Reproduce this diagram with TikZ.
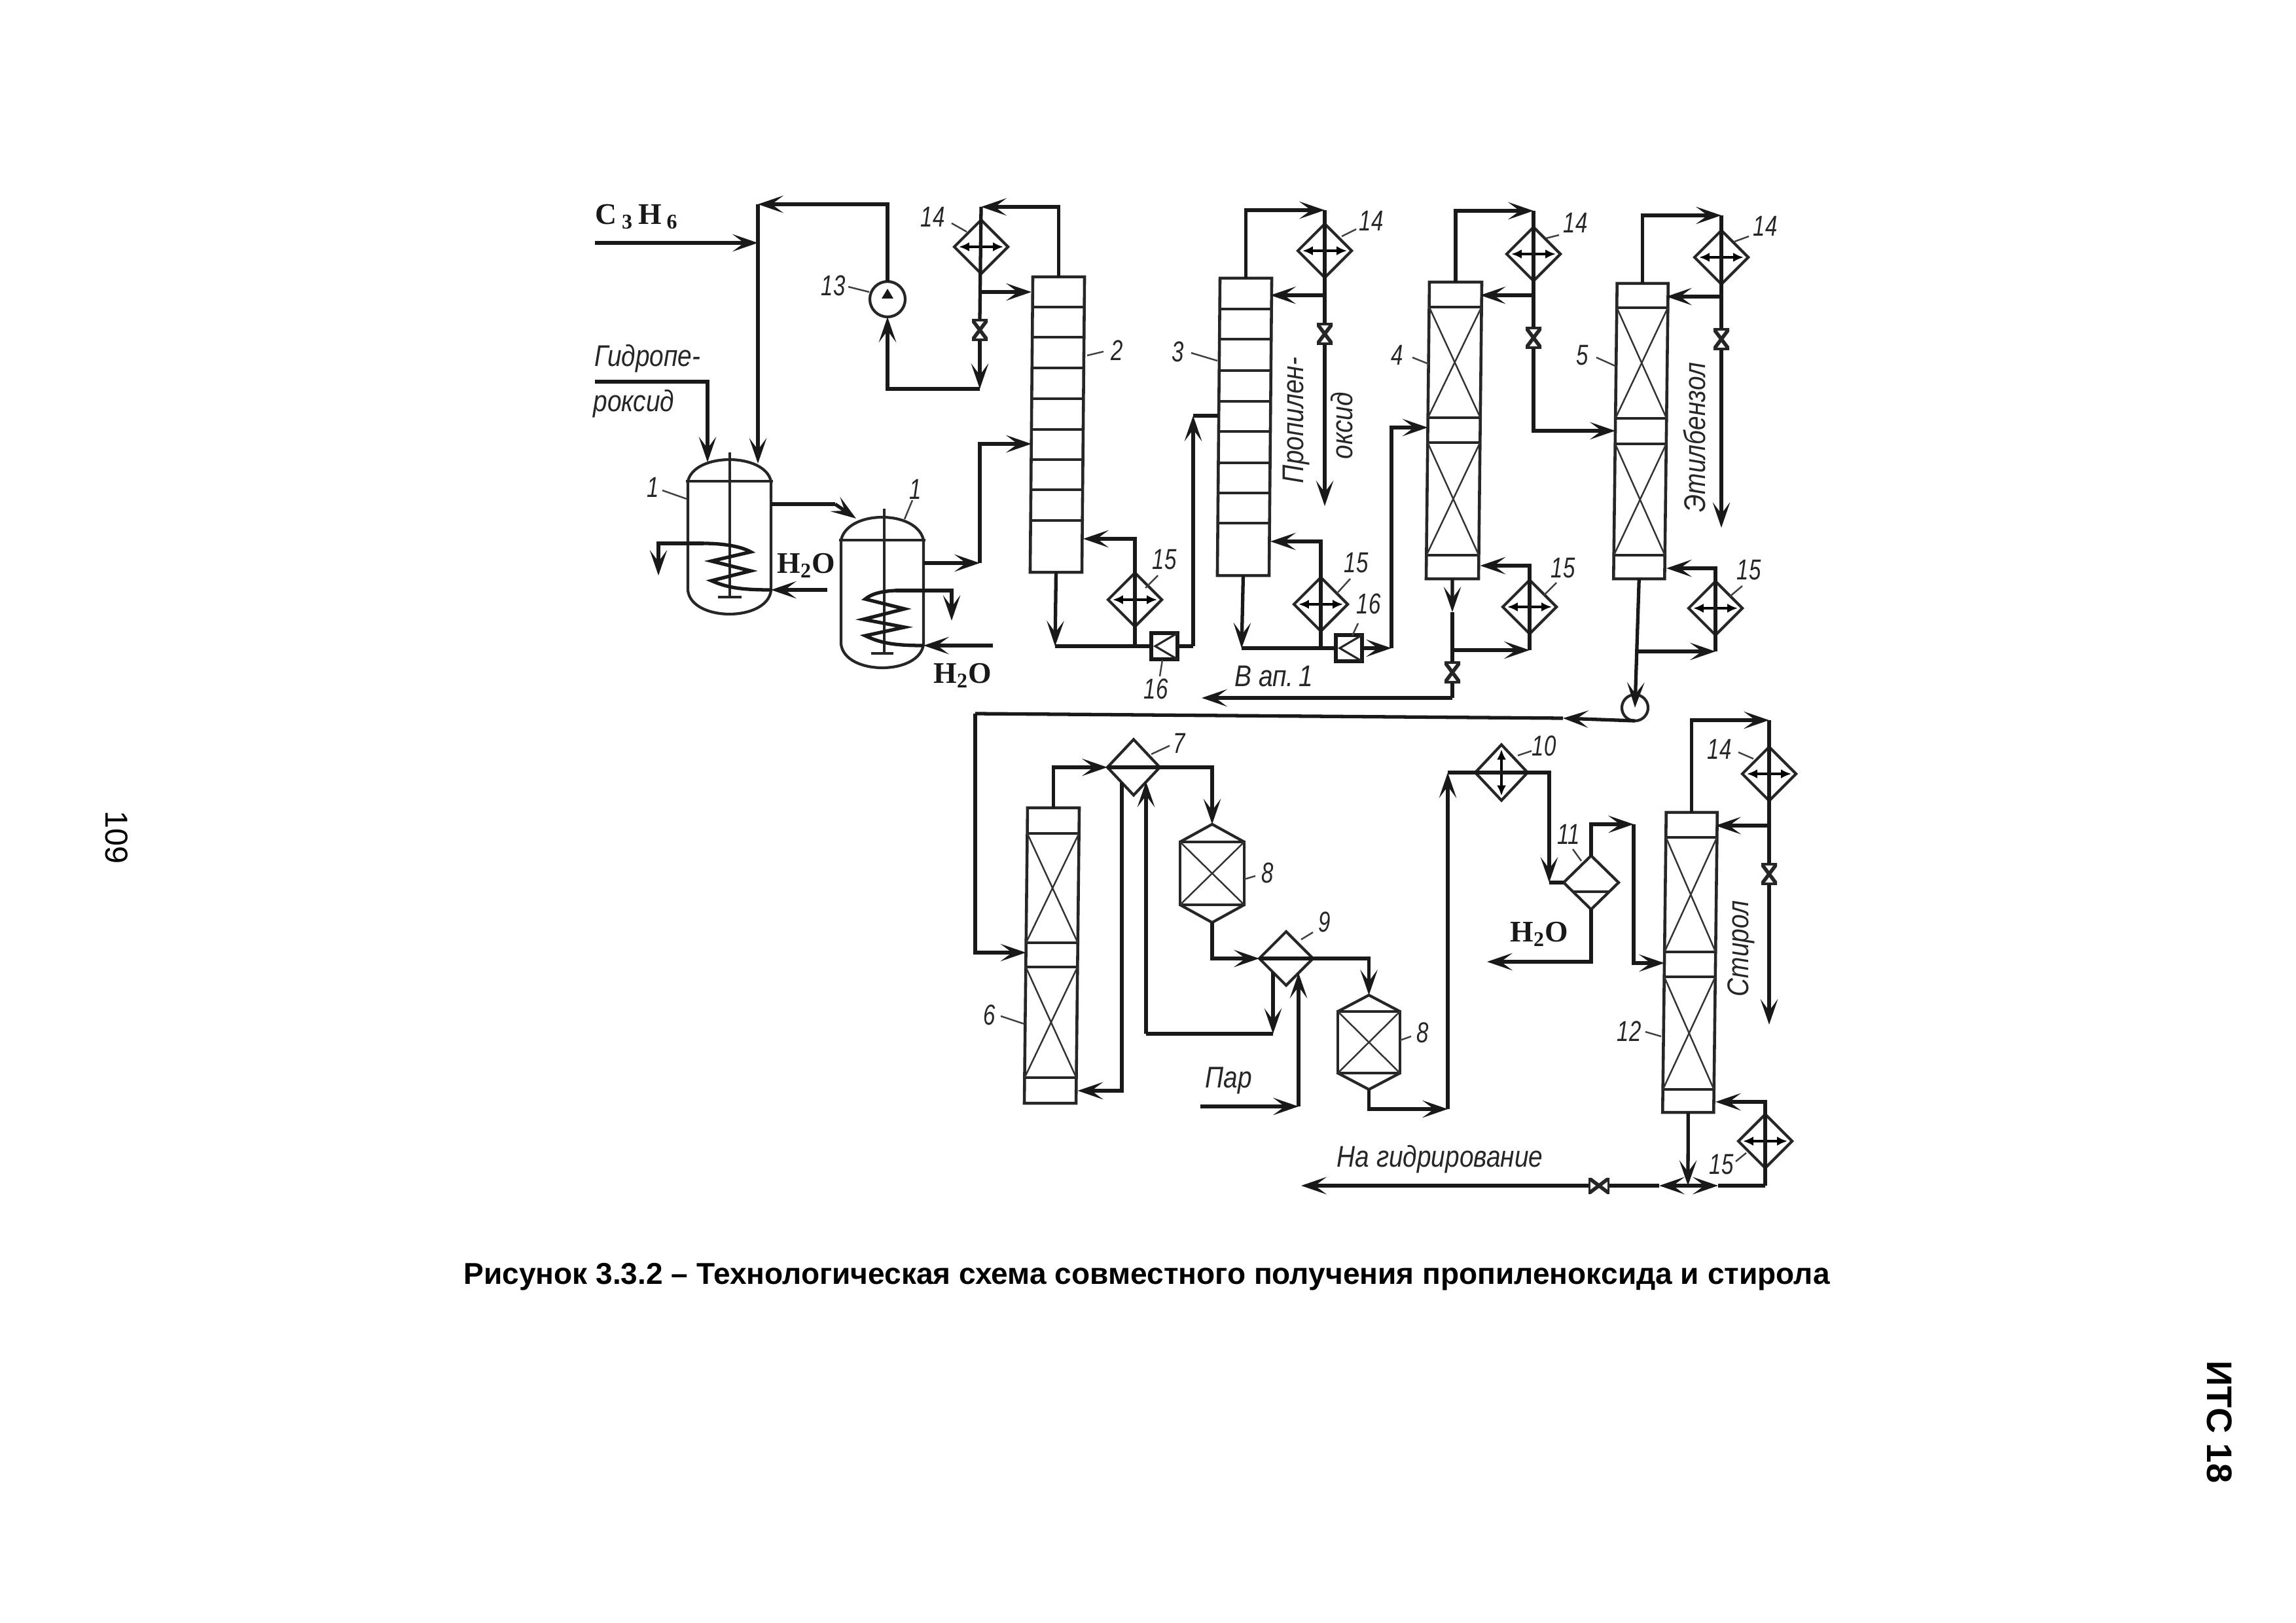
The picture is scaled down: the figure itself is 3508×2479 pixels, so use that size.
\documentclass[tikz,border=0pt]{standalone}
\usepackage{fontspec}
\setmainfont{Liberation Sans}
\newfontfamily\serbf{Liberation Serif Bold}
\newfontfamily\txtf[FakeStretch=.85]{Liberation Sans Italic}
\newfontfamily\numf[FakeStretch=.75]{Liberation Sans Italic}
\usetikzlibrary{arrows.meta,shapes.geometric,calc}
\tikzset{
  pipe/.style={line width=1.5pt,line join=miter,draw=black!90},
  flow/.style={pipe,-{Stealth[length=11pt,width=7.5pt,inset=5pt]}},
  colbox/.style={draw=black!85,line width=1.3pt,rectangle,inner sep=0pt,outer sep=0pt,fill=none},
  tray/.style={line width=1.1pt,draw=black!85},
  bed/.style={line width=.7pt,draw=black!80},
  hxbox/.style={draw=black!85,line width=1.2pt,shape=diamond,aspect=1,inner sep=0pt,outer sep=0pt,minimum width=.82cm,minimum height=.82cm},
  dbl/.style={line width=.9pt,{Latex[length=4.5pt,width=4pt]}-{Latex[length=4.5pt,width=4pt]},shorten <=2pt,shorten >=2pt},
  wall/.style={line width=1.2pt,draw=black!85,line join=round},
  ghost/.style={rectangle,inner sep=0pt,outer sep=0pt},
  leader/.style={line width=.7pt,draw=black!75},
  lbl/.style={font=\fontsize{13}{15}\txtf,inner sep=0pt,text=black!85},
  numl/.style={font=\fontsize{12.5}{15}\numf,inner sep=0pt,text=black!85},
  chem/.style={font=\fontsize{13}{15}\serbf,inner sep=0pt,text=black!90},
  vvalve/.style={rectangle,inner sep=0pt,outer sep=0pt,minimum width=.24cm,minimum height=.32cm,
    path picture={\draw[line width=1.6pt,draw=black!85] (path picture bounding box.north west)--(path picture bounding box.north east)--(path picture bounding box.south west)--(path picture bounding box.south east)--cycle;}},
  hvalve/.style={rectangle,inner sep=0pt,outer sep=0pt,minimum width=.32cm,minimum height=.24cm,
    path picture={\draw[line width=1.6pt,draw=black!85] (path picture bounding box.north west)--(path picture bounding box.south west)--(path picture bounding box.north east)--(path picture bounding box.south east)--cycle;}},
  sbox/.style={draw=black!90,line width=1.5pt,rectangle,inner sep=0pt,outer sep=0pt,minimum size=.40cm},
  chev/.style={line width=.9pt,draw=black!85},
  pumpc/.style={draw=black!85,line width=1.2pt,circle,inner sep=0pt,outer sep=0pt},
  unit/.style={draw=black!85,line width=1.3pt,rectangle,inner sep=0pt,outer sep=0pt},
}
% name, x, y, leader a (x,y), leader b (x,y), text
\newcommand\mylab[8]{\node[numl] (#1) at (#2,#3) {#8};\coordinate (#1a) at (#4,#5);\coordinate (#1b) at (#6,#7);\draw[leader] (#1a) -- (#1b);}
\newcommand\myhx[3]{\node[hxbox] (#1) at (#2,#3) {};\draw[dbl] (#1.west) -- (#1.east);}
\newcommand\mycol[6]{\node[colbox,minimum width=#4,minimum height=#5,xslant=#6] (#1) at (#2,#3) {};}
% column, ytop, height, list of y
\newcommand\mytrays[4]{\foreach \yy in {#4}{\pgfmathsetmacro\ff{(\yy-#2)/#3}
  \draw[tray] ($(#1.north west)!\ff!(#1.south west)$) -- ($(#1.north east)!\ff!(#1.south east)$);}}
% column, ytop, height, y1, y2
\newcommand\mybed[5]{\pgfmathsetmacro\fa{(#4-#2)/#3}\pgfmathsetmacro\fb{(#5-#2)/#3}
  \draw[bed] ($(#1.north west)!\fa!(#1.south west)$) -- ($(#1.north east)!\fb!(#1.south east)$);
  \draw[bed] ($(#1.north east)!\fa!(#1.south east)$) -- ($(#1.north west)!\fb!(#1.south west)$);}
% name, xL, xR, yhead, yside, ytop, ybot
\newcommand\myvessel[7]{\pgfmathsetmacro\vw{(#3-#2)*0.01}\pgfmathsetmacro\vh{(#7-#6)*0.01}
  \node[ghost,minimum width=\vw cm,minimum height=\vh cm] (#1) at ({(#2+#3)/2},{(#6+#7)/2}) {};
  \draw[wall] ({#2},#5) -- ({#2},#4) .. controls ({#2+10},{#6-(#4-#6)/3}) and ({#3-10},{#6-(#4-#6)/3}) .. ({#3},#4) -- ({#3},#5)
     .. controls ({#3-6},{#7+(#7-#5)/3}) and ({#2+6},{#7+(#7-#5)/3}) .. ({#2},#5);
  \draw[wall] ({#2-3},#4) -- ({#3+3},#4);}
% reactor 8: name, xc, yc, w, h, apex offset
\newcommand\mycat[6]{\node[unit,minimum width=#4,minimum height=#5] (#1) at (#2,#3) {};
  \coordinate (#1t) at ($(#1.north)+(0,-#6)$);\coordinate (#1b) at ($(#1.south)+(0,#6)$);
  \draw[wall] (#1.north west) -- (#1t) -- (#1.north east);
  \draw[wall] (#1.south west) -- (#1b) -- (#1.south east);
  \draw[bed] (#1.north west) -- (#1.south east);\draw[bed] (#1.north east) -- (#1.south west);}
\begin{document}
\begin{tikzpicture}[x=0.01cm,y=-0.01cm]
\useasboundingbox (0,0) rectangle (3508,2479);

%%% --- equipment ---
\myvessel{r1a}{1051}{1178}{735}{902}{702}{938}
\draw[wall] (1115,691) -- (1115,912); \draw[wall] (1097,912) -- (1133,912);
\myvessel{r1b}{1285}{1411}{825}{984}{790}{1020}
\draw[wall] (1351,777) -- (1351,998); \draw[wall] (1331,998) -- (1365,998);

\mycol{c2}{1615.5}{648.5}{.79cm}{4.51cm}{.009}
\mytrays{c2}{423}{451}{469,515,562,609,656,702,748,795}
\mycol{c3}{1901.5}{652}{.79cm}{4.54cm}{.009}
\mytrays{c3}{425}{454}{472,518,566,613,659,707,753,799}
\mycol{c4}{2221.5}{657.5}{.80cm}{4.53cm}{.011}
\mytrays{c4}{431}{453}{469,638,676,848}\mybed{c4}{431}{453}{469}{638}\mybed{c4}{431}{453}{676}{848}
\mycol{c5}{2507}{658.5}{.78cm}{4.51cm}{.012}
\mytrays{c5}{433}{451}{470,639,678,848}\mybed{c5}{433}{451}{470}{639}\mybed{c5}{433}{451}{678}{848}
\mycol{c6}{1607}{1459.5}{.79cm}{4.51cm}{.011}
\mytrays{c6}{1234}{451}{1273,1440,1477,1646}\mybed{c6}{1234}{451}{1273}{1440}\mybed{c6}{1234}{451}{1477}{1646}
\mycol{c12}{2582}{1470}{.78cm}{4.58cm}{.012}
\mytrays{c12}{1241}{458}{1279,1454,1492,1664}\mybed{c12}{1241}{458}{1279}{1454}\mybed{c12}{1241}{458}{1492}{1664}

\myhx{h14a}{1499}{377}\myhx{h14b}{2024}{383}\myhx{h14c}{2343}{388}\myhx{h14d}{2630}{393}\myhx{h14e}{2703}{1182}
\myhx{h15a}{1734}{916}\myhx{h15b}{2018}{923}\myhx{h15c}{2337}{927}\myhx{h15d}{2621}{929}\myhx{h15e}{2697}{1743}

\node[pumpc,minimum size=.54cm] (p13) at (1356,457) {};
\fill[black!90] (1356,441) -- (1365,456) -- (1347,456) -- cycle;
\node[pumpc,minimum size=.40cm] (p5) at (2498,1081) {};

\node[sbox] (b16a) at (1779,987) {};
\draw[chev] (b16a.north east) -- ($(b16a.west)+(6,0)$) -- (b16a.south east);
\node[sbox] (b16b) at (2061,990) {};
\draw[chev] (b16b.north east) -- ($(b16b.west)+(6,0)$) -- (b16b.south east);

\node[hxbox,minimum width=.80cm,minimum height=.85cm] (d7) at (1732,1172) {};
\node[hxbox] (d9) at (1965,1464) {};
\node[hxbox,minimum width=.80cm,minimum height=.85cm] (d10) at (2294,1180) {};
\draw[dbl] (d10.north) -- (d10.south);
\node[hxbox,minimum width=.84cm] (d11) at (2431,1348) {};
\draw[wall] (2403,1362) -- (2459,1362);
\mycat{r8a}{1852}{1334}{.98cm}{.96cm}{27}
\mycat{r8b}{2091.5}{1592}{.95cm}{.94cm}{25}

\node[vvalve] (v14a) at (1497,504) {};
\node[vvalve] (v14b) at (2024,510) {};
\node[vvalve] (v14c) at (2343,516) {};
\node[vvalve] (v14d) at (2630,518) {};
\node[vvalve] (v14e) at (2703,1335) {};
\node[vvalve] (v4b) at (2219,1027) {};
\node[hvalve] (vh) at (2443,1811) {};

%%% --- free ends and bends ---
\coordinate (c3h6) at (909,371);
\coordinate (jtop) at (1158,312);
\coordinate (r1ain) at (1158,708);
\coordinate (hp) at (909,583);
\coordinate (r1ahp) at (1081,706);
\coordinate (ob) at (1276,770);
\coordinate (r1bin) at (1308,792);
\coordinate (ca0) at (1075,830);
\coordinate (xa) at (1006,879);
\coordinate (wa) at (1264,901);
\coordinate (cb0) at (1368,902);
\coordinate (xb) at (1454,948);
\coordinate (wb) at (1517,986);
\coordinate (b2) at (1497,860);

\coordinate (t14a) at (1499,316);
\coordinate (r14a) at (1499,446);
\coordinate (o14a) at (1499,594);
\coordinate (bc2) at (1612,987);
\coordinate (j15a) at (1734,987);
\coordinate (u16a) at (1823,635);

\coordinate (t14b) at (2024,321);
\coordinate (r14b) at (2024,451);
\coordinate (e14b) at (2024,773);
\coordinate (bc3) at (1897,990);
\coordinate (j15b) at (2018,990);
\coordinate (u16b) at (2126,990);

\coordinate (t14c) at (2343,322);
\coordinate (r14c) at (2343,451);
\coordinate (m4) at (2219,935);
\coordinate (j4) at (2219,993);
\coordinate (j15c) at (2337,993);
\coordinate (b4) at (2219,1066);
\coordinate (e4) at (1836,1066);

\coordinate (t14d) at (2630,329);
\coordinate (r14d) at (2630,453);
\coordinate (e14d) at (2630,806);
\coordinate (j5) at (2503,995);
\coordinate (j15d) at (2621,995);
\coordinate (a5) at (2388,1097);
\coordinate (t6) at (1490,1090);

\coordinate (k7) at (1751,1579);
\coordinate (d7l) at (1714,1195);
\coordinate (d7r) at (1751,1194);
\coordinate (d9l) at (1945,1485);
\coordinate (d9lb) at (1945,1579);
\coordinate (d9r) at (1984,1486);
\coordinate (st0) at (1834,1690);
\coordinate (st1) at (1984,1690);
\coordinate (b8) at (2212,1694);
\coordinate (c8) at (2212,1180);
\coordinate (k10) at (2367,1348);
\coordinate (k11) at (2496,1259);
\coordinate (e11) at (2272,1469);

\coordinate (t14e) at (2703,1100);
\coordinate (r14e) at (2703,1261);
\coordinate (e14e) at (2703,1565);
\coordinate (j12) at (2579,1811);
\coordinate (a12r) at (2625,1811);
\coordinate (j15e) at (2697,1811);
\coordinate (a12l) at (2535,1811);
\coordinate (e12) at (1988,1811);

%%% --- connectors ---
\draw[flow] (c3h6) -- (jtop |- c3h6);
\draw[flow] (p13.north) |- (jtop);
\draw[flow] (jtop) -- (r1ain);
\draw[flow] (hp) -| (r1ahp);
\draw[pipe] (r1a.east |- 0,770) -- (ob);
\draw[flow] (ob) -- (r1bin);
\draw[flow] (r1b.east |- 0,860) -- (b2);
\draw[flow] (b2) |- (c2.west |- 0,678);

\draw[pipe] (ca0) .. controls (1110,830) and (1135,836) .. (1147,843) -- (1087,857) -- (1147,872) -- (1087,887) .. controls (1110,897) and (1130,901) .. (r1a.east |- wa);
\draw[flow] (ca0) -| (xa);
\draw[flow] (wa) -- (r1a.east |- wa);
\draw[pipe] (cb0) .. controls (1345,903) and (1330,908) .. (1322,915) -- (1382,930) -- (1319,946) -- (1382,958) -- (1322,971) .. controls (1345,982) and (1365,986) .. (r1b.east |- wb);
\draw[flow] (cb0) -| (xb);
\draw[flow] (wb) -- (r1b.east |- wb);

\draw[flow] (c2.north) |- (t14a);
\draw[pipe] (t14a) -- (v14a.north);
\draw[flow] (r14a) -- (r14a -| c2.west);
\draw[flow] (v14a.south) -- (v14a.south |- o14a);
\draw[flow] (v14a.south |- o14a) -| (p13.south);
\draw[flow] (c2.south) -- (bc2);
\draw[pipe] (bc2) -- (b16a.west);
\draw[flow] (j15a) |- (c2.east |- 0,823);
\draw[pipe] (b16a.east) -- (b16a.east -| u16a);
\draw[flow] (b16a.east -| u16a) -- (u16a);
\draw[pipe] (u16a) -- (u16a -| c3.west);

\draw[flow] (c3.north) |- (t14b);
\draw[pipe] (t14b) -- (v14b.north);
\draw[flow] (r14b) -- (r14b -| c3.east);
\draw[flow] (v14b.south) -- (e14b);
\draw[flow] (c3.south) -- (bc3);
\draw[pipe] (bc3) -- (b16b.west);
\draw[flow] (j15b) |- (c3.east |- 0,827);
\draw[flow] (b16b.east) -- (u16b);
\draw[flow] (u16b) |- (c4.west |- 0,653);

\draw[flow] (c4.north) |- (t14c);
\draw[pipe] (t14c) -- (v14c.north);
\draw[flow] (r14c) -- (r14c -| c4.east);
\draw[flow] (v14c.south) |- (c5.west |- 0,658);
\draw[flow] (c4.south) -- (m4);
\draw[pipe] (m4) -- (v4b.north);
\draw[flow] (j4) -- (j15c);
\draw[flow] (j15c) |- (c4.east |- 0,864);
\draw[pipe] (v4b.south) -- (b4);
\draw[flow] (b4) -- (e4);

\draw[flow] (c5.north) |- (t14d);
\draw[pipe] (t14d) -- (v14d.north);
\draw[flow] (r14d) -- (r14d -| c5.east);
\draw[flow] (v14d.south) -- (e14d);
\draw[flow] (c5.south) -- (p5.center);
\draw[flow] (j5) -- (j15d);
\draw[flow] (j15d) |- (c5.east |- 0,868);
\draw[flow] (p5.south) -- (a5);
\draw[pipe] (a5) -- (t6);
\draw[flow] (t6) |- (c6.west |- 0,1455);

\draw[flow] (c6.north) |- (d7.west);
\draw[pipe] (d7.west) -- (d7.east);
\draw[flow] (d7.east) -| (r8at);
\draw[flow] (d7l) |- (c6.east |- 0,1666);
\draw[flow] (k7) -- (d7r);
\draw[flow] (d9l) -- (d9lb);
\draw[pipe] (d9lb) -- (k7);
\draw[flow] (r8ab) |- (d9.west);
\draw[pipe] (d9.west) -- (d9.east);
\draw[flow] (d9.east) -| (r8bt);
\draw[flow] (st0) -- (st1);
\draw[flow] (st1) -- (d9r);
\draw[flow] (r8bb) |- (b8);
\draw[flow] (b8) -- (c8);
\draw[pipe] (c8) -- (d10.east);
\draw[flow] (d10.east) -| (k10);
\draw[pipe] (k10) -- (d11.west);
\draw[flow] (d11.north) |- (k11);
\draw[flow] (k11) |- (c12.west |- 0,1471);
\draw[flow] (d11.south) |- (e11);

\draw[flow] (c12.north) |- (t14e);
\draw[pipe] (t14e) -- (v14e.north);
\draw[flow] (r14e) -- (r14e -| c12.east);
\draw[flow] (v14e.south) -- (e14e);
\draw[flow] (c12.south) -- (j12);
\draw[flow] (j12) -- (a12r);
\draw[pipe] (a12r) -- (j15e);
\draw[flow] (j15e) |- (c12.east |- 0,1683);
\draw[flow] (j12) -- (a12l);
\draw[pipe] (a12l) -- (vh.east);
\draw[flow] (vh.west) -- (e12);

%%% --- labels ---
\node[chem] (tc3h6) at (973,331) {C\,\textsubscript{3}\,H\,\textsubscript{6}};
\node[chem] (th2oa) at (1232,864) {H\textsubscript{2}O};
\node[chem] (th2ob) at (1471,1032) {H\textsubscript{2}O};
\node[chem] (th2oc) at (2352,1427) {H\textsubscript{2}O};
\node[lbl,anchor=west] (tg1) at (908,548) {Гидропе-};
\node[lbl,anchor=west] (tg2) at (906,617) {роксид};
\node[lbl,rotate=90] (tpo1) at (1980,642) {Пропилен-};
\node[lbl,rotate=90] (tpo2) at (2050,650) {оксид};
\node[lbl,rotate=90] (teb) at (2589,668) {Этилбензол};
\node[lbl,rotate=90] (tst) at (2660,1449) {Стирол};
\node[lbl] (tvap) at (1946,1033) {В ап.\,1};
\node[lbl] (tpar) at (1877,1651) {Пар};
\node[lbl] (tna) at (2200,1771) {На гидрирование};

\mylab{n14a}{1425}{331}{1454}{341}{1477}{354}{14}
\mylab{n13}{1273}{436}{1296}{438}{1328}{446}{13}
\mylab{n2}{1707}{535}{1661}{543}{1686}{537}{2}
\mylab{n1a}{998}{744}{1012}{749}{1049}{762}{1}
\mylab{n1b}{1399}{747}{1394}{764}{1382}{793}{1}
\mylab{n14b}{2095}{337}{2050}{361}{2072}{350}{14}
\mylab{n3}{1800}{537}{1820}{539}{1860}{551}{3}
\mylab{n15b}{2072}{860}{2063}{884}{2043}{906}{15}
\mylab{n16b}{2091}{922}{2075}{952}{2066}{971}{16}
\mylab{n16a}{1766}{1052}{1776}{1008}{1772}{1033}{16}
\mylab{n15a}{1779}{855}{1769}{879}{1750}{898}{15}
\mylab{n14c}{2407}{340}{2362}{364}{2382}{359}{14}
\mylab{n4}{2135}{542}{2158}{546}{2183}{556}{4}
\mylab{n15c}{2388}{868}{2378}{890}{2359}{909}{15}
\mylab{n14d}{2697}{345}{2650}{369}{2672}{361}{14}
\mylab{n5}{2418}{543}{2439}{546}{2468}{559}{5}
\mylab{n15d}{2672}{871}{2662}{895}{2643}{911}{15}
\mylab{n7}{1802}{1135}{1759}{1152}{1787}{1139}{7}
\mylab{n8a}{1937}{1333}{1901}{1343}{1918}{1338}{8}
\mylab{n9}{2024}{1408}{1988}{1435}{2006}{1424}{9}
\mylab{n6}{1512}{1550}{1529}{1552}{1565}{1564}{6}
\mylab{n8b}{2174}{1577}{2139}{1589}{2156}{1583}{8}
\mylab{n10}{2359}{1139}{2319}{1154}{2340}{1147}{10}
\mylab{n11}{2397}{1274}{2403}{1297}{2416}{1315}{11}
\mylab{n14e}{2627}{1144}{2656}{1149}{2679}{1159}{14}
\mylab{n12}{2489}{1575}{2514}{1576}{2538}{1583}{12}
\mylab{n15e}{2630}{1779}{2652}{1774}{2668}{1761}{15}

\node[font=\fontsize{13.1}{16}\selectfont\bfseries,inner sep=0pt] (cap) at (1752,1950) {Рисунок 3.3.2 – Технологическая схема совместного получения пропиленоксида и стирола};
\node[font=\fontsize{13.8}{16}\selectfont,inner sep=0pt,rotate=-90] (pg) at (178,1279) {109};
\node[font=\fontsize{15.4}{18}\selectfont\bfseries,inner sep=0pt,rotate=-90] (its) at (3391,2172) {ИТС 18};
\end{tikzpicture}
\end{document}
